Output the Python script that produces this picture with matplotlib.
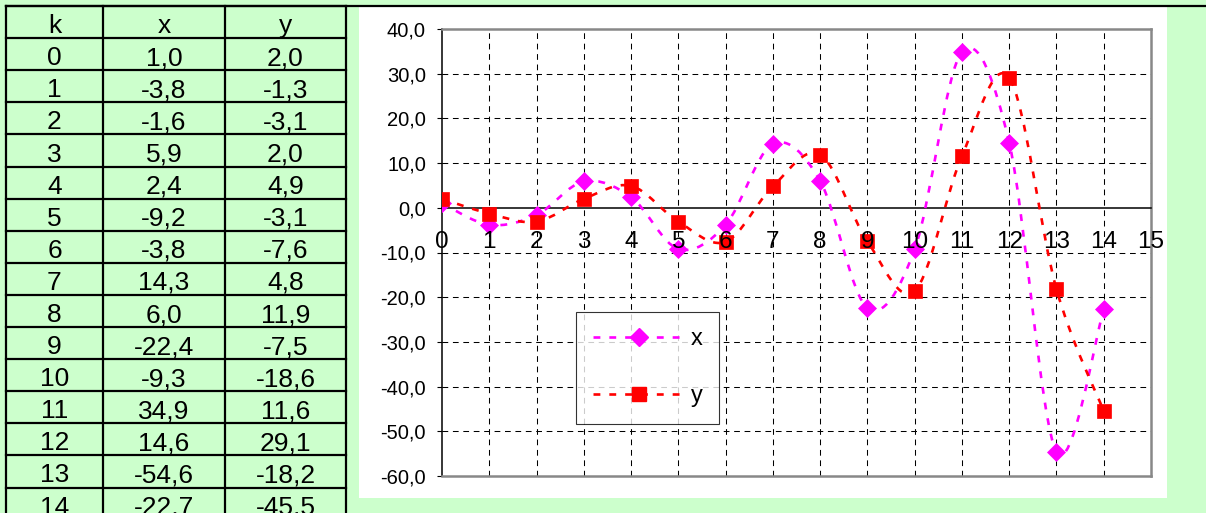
import numpy as np
import matplotlib
matplotlib.use("Agg")
import matplotlib.pyplot as plt
from matplotlib.path import Path
from matplotlib.patches import PathPatch, Rectangle
from matplotlib.lines import Line2D

plt.rcParams['font.family'] = ['Liberation Sans', 'DejaVu Sans']

# table / chart data
k = [0, 1, 2, 3, 4, 5, 6, 7, 8, 9, 10, 11, 12, 13, 14]
x_vals = [1.0, -3.8, -1.6, 5.9, 2.4, -9.2, -3.8, 14.3, 6.0, -22.4, -9.3, 34.9, 14.6, -54.6, -22.7]
y_vals = [2.0, -1.3, -3.1, 2.0, 4.9, -3.1, -7.6, 4.8, 11.9, -7.5, -18.6, 11.6, 29.1, -18.2, -45.5]
headers = ['k', 'x', 'y']

W, H = 1206, 513
GREEN = '#CCFFCC'
MAGENTA = '#FF00FF'
RED = '#FF0000'


def fmt(v):
    return f"{v:.1f}".replace('.', ',')


def smooth_path(xs, ys):
    # Excel-like smoothed line: cubic Bezier through the points
    pts = np.column_stack([xs, ys]).astype(float)
    n = len(pts)
    verts = [pts[0]]
    codes = [Path.MOVETO]
    for i in range(n - 1):
        p0 = pts[max(i - 1, 0)]
        p1 = pts[i]
        p2 = pts[i + 1]
        p3 = pts[min(i + 2, n - 1)]
        verts += [p1 + (p2 - p0) / 6, p2 - (p3 - p1) / 6, p2]
        codes += [Path.CURVE4] * 3
    return Path(verts, codes)


fig = plt.figure(figsize=(W / 100, H / 100), dpi=100, facecolor=GREEN)

# background layer in pixel coordinates
bg = fig.add_axes([0, 0, 1, 1])
bg.set_xlim(0, W)
bg.set_ylim(H, 0)
bg.axis('off')

# white chart area
bg.add_patch(Rectangle((359, 7), 1167 - 359, 498 - 7, facecolor='white', edgecolor='none'))
bg.plot([6, W], [6, 6], color='black', lw=1.6)

# table
col_edges = [6, 103, 225, 346]
row_h = 32.1
top = 6
n_rows = len(k) + 1
for c in col_edges:
    bg.plot([c, c], [top, H + 10], color='black', lw=1.6, clip_on=False)
for r in range(n_rows):
    yy = top + r * row_h
    bg.plot([col_edges[0], col_edges[-1]], [yy, yy], color='black', lw=1.6)

rows = [headers] + [[str(kk), fmt(xv), fmt(yv)] for kk, xv, yv in zip(k, x_vals, y_vals)]
for r, row in enumerate(rows):
    base = top + (r + 1) * row_h - 5
    for c, txt in enumerate(row):
        cx = (col_edges[c] + col_edges[c + 1]) / 2
        bg.text(cx, base, txt, ha='center', va='baseline', fontsize=19)

# chart
L, R, T, B = 442, 1151, 29, 476
ax = fig.add_axes([L / W, (H - B) / H, (R - L) / W, (B - T) / H])
ax.set_facecolor('white')
ax.set_xlim(0, 15)
ax.set_ylim(-60, 40)

ax.set_xticks(range(0, 16))
ax.set_yticks(range(-60, 41, 10))
ax.set_yticklabels([fmt(v) for v in range(-60, 41, 10)])
ax.tick_params(axis='x', length=0, pad=17, labelsize=17.5)
ax.tick_params(axis='y', direction='out', length=3.6, width=0.8, pad=8, labelsize=14.5)
ax.xaxis.set_zorder(10)

grid_style = (0, (5.5, 4.5))
for gx in range(1, 15):
    ax.axvline(gx, color='black', lw=0.75, ls=grid_style, zorder=1)
for gy in range(-50, 40, 10):
    if gy != 0:
        ax.axhline(gy, color='black', lw=0.75, ls=grid_style, zorder=1)

ax.spines['bottom'].set_position(('data', 0))
ax.spines['bottom'].set_color('black')
ax.spines['bottom'].set_linewidth(1.1)
ax.spines['left'].set_color('black')
ax.spines['left'].set_linewidth(1.1)
for s in ['top', 'right']:
    ax.spines[s].set_color('#888888')
    ax.spines[s].set_linewidth(1.8)
ax.plot([0, 1], [0, 0], transform=ax.transAxes, color='#888888', lw=1.8, clip_on=False, zorder=3)

line_ls = (0, (2.6, 3.4))
series = [(x_vals, MAGENTA, 'D', 9.5), (y_vals, RED, 's', 10.5)]
z = 4
for vals, col, mk, ms in series:
    ax.add_patch(PathPatch(smooth_path(k, vals), facecolor='none', edgecolor=col,
                           lw=1.9, ls=line_ls, zorder=z))
    ax.plot(k, vals, ls='none', marker=mk, ms=ms, color=col, mec=col, mew=0.5, zorder=z + 1)
    z += 2

handles = [Line2D([], [], color=col, lw=1.9, ls=line_ls, marker=mk, ms=ms, mec=col)
           for vals, col, mk, ms in series]
leg = ax.legend(handles, ['x', 'y'], loc='lower left',
                bbox_to_anchor=((576 - L) / (R - L), (B - 424) / (B - T)),
                borderaxespad=0, frameon=True, fancybox=False, fontsize=17,
                handlelength=3.9, handletextpad=0.25, labelspacing=1.5,
                borderpad=0.7, numpoints=1)
leg.get_frame().set_edgecolor('black')
leg.get_frame().set_linewidth(0.8)
leg.set_zorder(20)

fig.savefig('out.png', dpi=100, facecolor=GREEN)
